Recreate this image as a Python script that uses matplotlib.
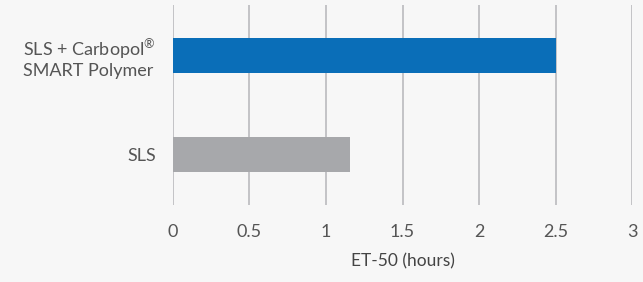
#!/usr/bin/env python3
import numpy as np
import matplotlib.pyplot as pl

# Data
categories = ['SLS', 'SLS + Carbopol$^{®}$\nSMART Polymer']
et50_hours = [1.16, 2.5]
bar_colors = ['#a7a8ab', '#0a6eb8']
x_ticks = [0, 0.5, 1, 1.5, 2, 2.5, 3]
x_tick_labels = ['0', '0.5', '1', '1.5', '2', '2.5', '3']


def plot():
    pl.rcParams['font.family'] = ['Lato', 'DejaVu Sans']
    pl.rcParams['mathtext.fontset'] = 'custom'
    pl.rcParams['mathtext.rm'] = 'Lato'
    pl.rcParams['mathtext.default'] = 'rm'
    fig = pl.figure(figsize=(6.43, 2.82), dpi=100)
    fig.patch.set_facecolor('#f7f7f7')
    ax = fig.add_axes([0.269, 0.273, 0.714, 0.709])
    ax.set_facecolor('none')

    ypos = np.arange(len(categories))
    ax.barh(ypos, et50_hours, height=0.354, color=bar_colors, zorder=3)

    ax.set_xlim(0, 3)
    ax.set_ylim(-0.51, 1.51)
    ax.set_xticks(x_ticks)
    ax.set_xticklabels(x_tick_labels)
    ax.set_yticks(ypos)
    ax.set_yticklabels(categories)
    for lbl in ax.get_yticklabels():
        lbl.set_multialignment('left')

    # vertical gridlines only
    ax.grid(axis='x', color='#c3c3c6', linewidth=1.4, zorder=0)
    ax.grid(axis='y', visible=False)
    for s in ax.spines.values():
        s.set_visible(False)
    ax.tick_params(axis='x', length=0, pad=14, labelsize=13, labelcolor='#555555')
    ax.tick_params(axis='y', length=0, pad=12, labelsize=13, labelcolor='#555555')

    ax.set_xlabel('ET-50 (hours)', fontsize=12.5, color='#444444', labelpad=9)

    pl.savefig('out.png', dpi=100, facecolor=fig.get_facecolor())
    pl.close()


if __name__ == '__main__':
    plot()
